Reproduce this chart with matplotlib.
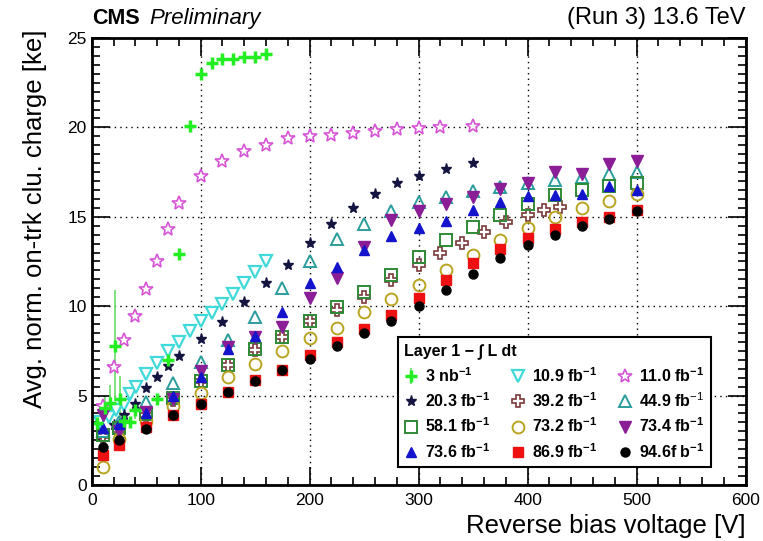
import matplotlib
matplotlib.use("Agg")
import matplotlib.pyplot as plt
from matplotlib.ticker import MultipleLocator

plt.rcParams['font.family'] = ['Liberation Sans', 'DejaVu Sans']
plt.rcParams['mathtext.fontset'] = 'custom'
plt.rcParams['mathtext.rm'] = 'Liberation Sans'
plt.rcParams['mathtext.bf'] = 'Liberation Sans:bold'

# --- data (V, avg. normalised charge in ke) ---
v_3nb = [5, 12, 17, 21, 26, 30, 35, 40, 60, 70, 80, 90, 100, 110, 120, 130, 140, 150, 160]
q_3nb = [3.45, 4.3, 4.6, 7.8, 4.8, 3.6, 3.5, 4.2, 4.8, 7.0, 12.9, 20.1, 23.0, 23.6, 23.8, 23.8, 23.95, 23.95, 24.1]
e_3nb = [0.4, 0.6, 1.0, 3.1, 1.3, 0.4, 0.3, 0.5, 0.2, 0.2, 0, 0, 0, 0, 0, 0, 0, 0, 0]

v_109 = [8, 16, 22, 30, 35, 41, 50, 60, 70, 80, 90, 100, 110, 120, 130, 140, 150, 160]
q_109 = [3.5, 3.8, 4.2, 4.5, 5.1, 5.5, 6.2, 6.85, 7.5, 8.0, 8.6, 9.2, 9.6, 10.15, 10.7, 11.3, 11.9, 12.55]

v_110 = [10, 20, 30, 40, 50, 60, 70, 80, 100, 120, 140, 160, 180, 200, 220, 240, 260, 280, 300, 320, 350]
q_110 = [4.4, 6.6, 8.1, 9.45, 10.95, 12.5, 14.3, 15.75, 17.3, 18.1, 18.7, 19.0, 19.4, 19.5, 19.6, 19.7,
         19.8, 19.9, 19.95, 20.0, 20.1]

v_203 = [10, 20, 30, 40, 50, 60, 70, 80, 100, 120, 140, 160, 180, 200, 220, 240, 260, 280, 300, 325, 350]
q_203 = [2.9, 3.35, 3.9, 4.55, 5.4, 6.05, 6.65, 7.2, 8.15, 9.1, 10.25, 11.3, 12.3, 13.55, 14.6, 15.5,
         16.3, 16.9, 17.3, 17.7, 18.0]

v_392 = [10, 25, 50, 75, 100, 125, 150, 175, 200, 225, 250, 275, 300, 320, 340, 360, 380, 400, 415, 430]
q_392 = [2.75, 3.1, 3.9, 4.75, 5.8, 6.7, 7.55, 8.3, 9.2, 9.8, 10.5, 11.45, 12.3, 12.95, 13.55, 14.15,
         14.7, 15.1, 15.4, 15.55]

v_449 = [10, 25, 50, 75, 100, 125, 150, 175, 200, 225, 250, 275, 300, 325, 350, 375, 400, 425, 450, 475, 500]
q_449 = [3.0, 3.5, 4.65, 5.7, 6.9, 8.1, 9.4, 11.0, 12.55, 13.75, 14.6, 15.3, 15.8, 16.1, 16.45, 16.65,
         16.9, 17.05, 17.2, 17.4, 17.5]

v_581 = [10, 25, 50, 75, 100, 125, 150, 175, 200, 225, 250, 275, 300, 325, 350, 375, 400, 425, 450, 475, 500]
q_581 = [2.8, 3.2, 3.95, 4.85, 5.8, 6.7, 7.6, 8.3, 9.15, 9.95, 10.8, 11.75, 12.75, 13.7, 14.45, 15.1,
         15.7, 16.2, 16.5, 16.7, 16.9]

v_732 = [10, 25, 50, 75, 100, 125, 150, 175, 200, 225, 250, 275, 300, 325, 350, 375, 400, 425, 450, 475, 500]
q_732 = [1.0, 2.6, 3.6, 4.4, 5.15, 6.05, 6.75, 7.5, 8.2, 8.8, 9.65, 10.4, 11.2, 12.0, 12.85, 13.7,
         14.35, 15.0, 15.5, 15.9, 16.3]

v_734 = [10, 25, 50, 75, 100, 125, 150, 175, 200, 225, 250, 275, 300, 325, 350, 375, 400, 425, 450, 475, 500]
q_734 = [3.9, 3.0, 4.1, 4.8, 6.4, 7.7, 8.3, 8.85, 10.45, 11.6, 13.3, 14.8, 15.3, 15.7, 16.1, 16.55,
         16.9, 17.5, 17.4, 17.95, 18.1]

v_736 = [10, 25, 50, 75, 100, 125, 150, 175, 200, 225, 250, 275, 300, 325, 350, 375, 400, 425, 450, 475, 500]
q_736 = [3.2, 3.4, 4.0, 5.0, 6.05, 7.6, 8.35, 9.7, 11.3, 12.2, 13.15, 13.9, 14.35, 14.75, 15.4, 15.85,
         16.15, 16.2, 16.3, 16.7, 16.5]

v_869 = [10, 25, 50, 75, 100, 125, 150, 175, 200, 225, 250, 275, 300, 325, 350, 375, 400, 425, 450, 475, 500]
q_869 = [1.7, 2.25, 3.25, 3.9, 4.55, 5.2, 5.85, 6.45, 7.25, 8.0, 8.7, 9.5, 10.45, 11.45, 12.4, 13.2,
         13.8, 14.3, 14.7, 15.0, 15.4]

v_946 = [10, 25, 50, 75, 100, 125, 150, 175, 200, 225, 250, 275, 300, 325, 350, 375, 400, 425, 450, 475, 500]
q_946 = [2.15, 2.5, 3.15, 3.9, 4.55, 5.2, 5.8, 6.45, 7.05, 7.75, 8.5, 9.15, 10.0, 10.9, 11.8, 12.7,
         13.4, 14.0, 14.5, 14.85, 15.3]

fig = plt.figure(figsize=(7.63, 5.41), dpi=100)
ax = fig.add_axes([0.1202, 0.1035, 0.857, 0.8263])

h = {}
h['3nb'] = ax.errorbar(v_3nb, q_3nb, yerr=e_3nb, fmt='+', color='#22ee22', ms=8, mew=2.5,
                       elinewidth=1.2, ecolor='#66dd66', capsize=0, label=r'3 nb$^{\mathbf{-1}}$')
h['109'] = ax.plot(v_109, q_109, 'v', ls='none', mfc='white', mec='#3fd9d9', mew=1.6, ms=8.5,
                   label=r'10.9 fb$^{\mathbf{-1}}$')[0]
h['110'] = ax.plot(v_110, q_110, '*', ls='none', mfc='white', mec='#d655d6', mew=1.2, ms=10,
                   label=r'11.0 fb$^{\mathbf{-1}}$')[0]
h['203'] = ax.plot(v_203, q_203, '*', ls='none', color='#141440', ms=8,
                   label=r'20.3 fb$^{\mathbf{-1}}$')[0]
h['392'] = ax.plot(v_392, q_392, 'P', ls='none', mfc='white', mec='#7a3a3a', mew=1.2, ms=9,
                   label=r'39.2 fb$^{\mathbf{-1}}$')[0]
h['449'] = ax.plot(v_449, q_449, '^', ls='none', mfc='none', mec='#2a9d9d', mew=1.4, ms=8.5,
                   label=r'44.9 fb$^{-1}$')[0]
h['581'] = ax.plot(v_581, q_581, 's', ls='none', mfc='none', mec='#2f8a35', mew=1.4, ms=8,
                   label=r'58.1 fb$^{\mathbf{-1}}$')[0]
h['732'] = ax.plot(v_732, q_732, 'o', ls='none', mfc='none', mec='#b8a420', mew=1.4, ms=8.5,
                   label=r'73.2 fb$^{\mathbf{-1}}$')[0]
h['734'] = ax.plot(v_734, q_734, 'v', ls='none', color='#8b1e96', ms=8,
                   label=r'73.4 fb$^{\mathbf{-1}}$')[0]
h['736'] = ax.plot(v_736, q_736, '^', ls='none', color='#1414cc', ms=7,
                   label=r'73.6 fb$^{\mathbf{-1}}$')[0]
h['869'] = ax.plot(v_869, q_869, 's', ls='none', color='#ee1111', ms=6.5,
                   label=r'86.9 fb$^{\mathbf{-1}}$')[0]
h['946'] = ax.plot(v_946, q_946, 'o', ls='none', color='black', ms=6.5,
                   label=r'94.6f b$^{\mathbf{-1}}$')[0]

ax.set_xlim(0, 600)
ax.set_ylim(0, 25)
ax.xaxis.set_major_locator(MultipleLocator(100))
ax.xaxis.set_minor_locator(MultipleLocator(20))
ax.yaxis.set_major_locator(MultipleLocator(5))
ax.yaxis.set_minor_locator(MultipleLocator(0.5))
ax.tick_params(which='both', direction='in', top=True, right=True, width=1.2, labelsize=12.5)
ax.tick_params(which='major', length=13)
ax.tick_params(which='minor', length=6)
ax.tick_params(axis='x', pad=6)
for s in ax.spines.values():
    s.set_linewidth(2)
ax.grid(True, which='major', ls=(0, (1, 3)), color='black', lw=1)

ax.set_xlabel('Reverse bias voltage [V]', fontsize=18.5, loc='right')
ax.set_ylabel('Avg. norm. on-trk clu. charge [ke]', fontsize=18.5, loc='top')
ax.yaxis.set_label_coords(-0.068, 1.02)

fig.text(0.1202, 0.955, 'CMS', fontsize=15.5, fontweight='bold', va='baseline')
fig.text(0.196, 0.955, 'Preliminary', fontsize=16, fontstyle='italic', va='baseline')
fig.text(0.977, 0.955, '(Run 3) 13.6 TeV', fontsize=17, ha='right', va='baseline')

# legend is filled column by column
order = ['3nb', '203', '581', '736', '109', '392', '732', '869', '110', '449', '734', '946']
leg = ax.legend([h[k] for k in order], [h[k].get_label() for k in order], ncol=3,
                loc='upper left', bbox_to_anchor=(0.468, 0.044, 0.479, 0.287), mode='expand',
                borderaxespad=0, fancybox=False, edgecolor='black', framealpha=1,
                title='Layer 1 − ∫ L dt', alignment='left',
                prop={'weight': 'bold', 'size': 11.5}, title_fontproperties={'weight': 'bold', 'size': 11.5},
                handlelength=0.8, handletextpad=0.5, labelspacing=0.42, columnspacing=0.5,
                borderpad=0.4)
leg.get_frame().set_linewidth(1.5)

fig.savefig('out.png', dpi=100)
